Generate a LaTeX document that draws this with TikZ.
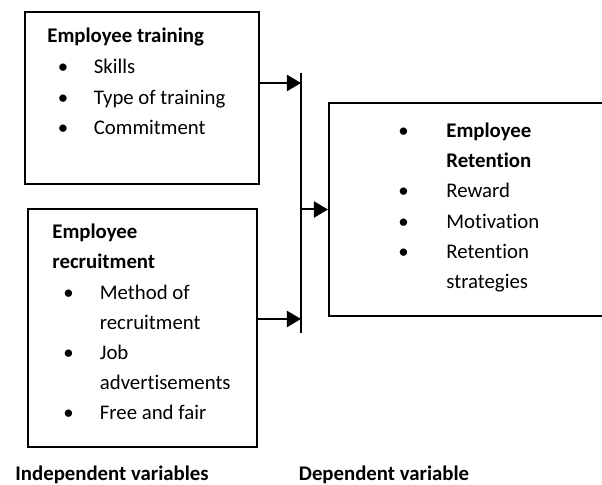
\documentclass[tikz,border=0pt]{standalone}
\usepackage{fontspec}
\setmainfont{Carlito}[Ligatures=NoCommon]
\usetikzlibrary{positioning,arrows.meta}

\begin{document}
\begin{tikzpicture}[x=0.5pt,y=0.5pt,yscale=-1,xscale=1,
  box/.style={draw, line width=1pt, inner sep=0pt},
  txt/.style={anchor=base west, inner sep=0pt, font=\fontsize{10.4}{12}\selectfont},
  head/.style={txt, font=\fontsize{10.4}{12}\selectfont\bfseries},
  dot/.style={anchor=base, inner sep=0pt, font=\fontsize{10.4}{12}\selectfont},
  arr/.style={line width=1pt, -{Triangle[length=7pt,width=8pt]}}]
\useasboundingbox (0,0) rectangle (602,485);
\clip (0,0) rectangle (602,485);

%Shape: Rectangle [training]
\node[box, minimum width=117pt, minimum height=86pt] (training) at (142,98) {};
%Shape: Rectangle [recruitment]
\node[box, minimum width=114.5pt, minimum height=119pt] (recruit) at (142.5,328) {};
%Shape: Rectangle [retention], open past the right edge
\node[box, minimum width=160pt, minimum height=106.5pt, anchor=west] (retention) at (328,209.5) {};

%Straight Lines [bar]
\coordinate (bartop) at (301,73);
\coordinate (barbot) at (301,333);
\coordinate (in1) at (301,83);
\coordinate (in2) at (301,319);
\draw[line width=1pt] (bartop) -- (barbot);

%Straight Lines [arrows]
\draw[arr] (training.east |- in1) -- (in1);
\draw[arr] (recruit.east |- in2) -- (in2);
\draw[arr] (retention.west -| bartop) -- (retention.west);

% Text Node
\node[head] (tr0) at (47,43) {Employee training};
\node[dot] (trb1) at (63,74) {•};
\node[txt] (tr1) at (93.5,74) {Skills};
\node[dot] (trb2) at (63,104.5) {•};
\node[txt] (tr2) at (93.5,104.5) {Type of training};
\node[dot] (trb3) at (63,135) {•};
\node[txt] (tr3) at (93.5,135) {Commitment};

% Text Node
\node[head] (rc0) at (52,239) {Employee};
\node[head] (rc1) at (52,269) {recruitment};
\node[dot] (rcb2) at (68.5,299.5) {•};
\node[txt] (rc2) at (99.5,299.5) {Method of};
\node[txt] (rc3) at (99.5,330) {recruitment};
\node[dot] (rcb4) at (68.5,360) {•};
\node[txt] (rc4) at (99.5,360) {Job};
\node[txt] (rc5) at (99.5,390) {advertisements};
\node[dot] (rcb6) at (68.5,420) {•};
\node[txt] (rc6) at (99.5,420) {Free and fair};

% Text Node
\node[dot] (rtb0) at (403.5,137.5) {•};
\node[head] (rt0) at (446,137.5) {Employee};
\node[head] (rt1) at (446,168) {Retention};
\node[dot] (rtb2) at (403.5,198) {•};
\node[txt] (rt2) at (446,198) {Reward};
\node[dot] (rtb3) at (403.5,228.5) {•};
\node[txt] (rt3) at (446,228.5) {Motivation};
\node[dot] (rtb4) at (403.5,259) {•};
\node[txt] (rt4) at (446,259) {Retention};
\node[txt] (rt5) at (446,289) {strategies};

% Text Node
\node[head] (indep) at (15,481) {Independent variables};
\node[head] (dep) at (298.5,481) {Dependent variable};

\end{tikzpicture}
\end{document}
